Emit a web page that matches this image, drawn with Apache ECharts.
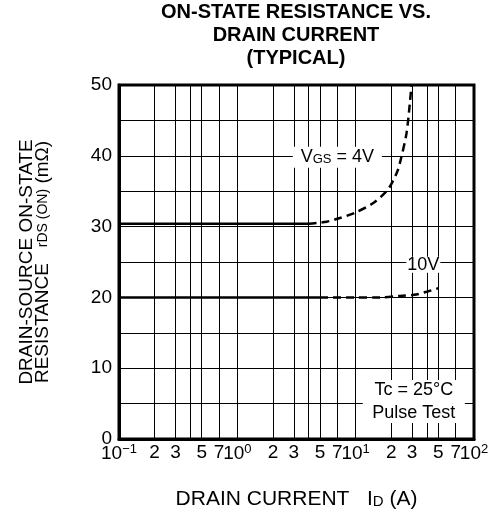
<!DOCTYPE html>
<html>
<head>
<meta charset="utf-8">
<script src="https://cdn.jsdelivr.net/npm/echarts@6/dist/echarts.min.js"></script>
<style>
  html, body { margin: 0; padding: 0; background: #fff; }
  #chart { width: 494px; height: 517px; }
</style>
</head>
<body>
<div id="chart"></div>
<script>
var FONT = 'Liberation Sans, Arial, Helvetica, sans-serif';

// x grid lines (A)
var xGridValues = [0.1, 0.2, 0.3, 0.4, 0.5, 0.7, 1, 2, 3, 4, 5, 7, 10, 20, 30, 40, 50, 70, 100];
// labelled ticks: digits inside each decade, and the powers of ten
var xDigitValues = [0.2, 0.3, 0.5, 0.7, 2, 3, 5, 7, 20, 30, 50, 70];
var xDigitTexts = ['2', '3', '5', '7', '2', '3', '5', '7', '2', '3', '5', '7'];
var xPowerValues = [0.1, 1, 10, 100];
var xPowerTexts = ['10{sup|−1}', '10{sup|0}', '10{sup|1}', '10{sup|2}'];

// VGS = 4V curve (ID in A, rDS(on) in mOhm)
var vgs4Solid = [[0.1, 30.4], [4, 30.4]];
var vgs4Dashed = [[4, 30.4], [5.7, 30.7], [7, 31.1], [10, 32.0], [14, 33.3], [18, 34.9], [20, 36.0], [22.5, 37.8], [24.4, 39.9], [26.9, 43.2], [28.7, 47.4], [29.6, 50]];

// VGS = 10V curve
var vgs10Solid = [[0.1, 20.0], [5, 20.0]];
var vgs10Dashed = [[5, 20.0], [10, 20.0], [16, 20.0], [23.6, 20.2], [32.6, 20.4], [39.8, 20.8], [50, 21.3]];

var chart = echarts.init(document.getElementById('chart'));

function pick(values, texts) {
  return function (v) {
    var best = 0, bestD = Infinity;
    for (var i = 0; i < values.length; i++) {
      var d = Math.abs(Math.log(v) - Math.log(values[i]));
      if (d < bestD) { bestD = d; best = i; }
    }
    return texts[best];
  };
}

var boxLabel = function (coord, size, text) {
  return {
    coord: coord,
    symbol: 'rect',
    symbolSize: size,
    itemStyle: { color: '#fff' },
    label: {
      show: true,
      position: 'inside',
      formatter: text,
      color: '#000',
      fontFamily: FONT,
      fontSize: 18,
      lineHeight: 23,
      rich: {
        sub: { fontSize: 13, fontFamily: FONT, color: '#000', padding: [4, 0, 0, 0] }
      }
    }
  };
};

var labelStyle = {
  margin: 4,
  color: '#000',
  fontFamily: FONT,
  fontSize: 19,
  hideOverlap: false,
  showMinLabel: true,
  showMaxLabel: true,
  rich: {
    sup: { fontSize: 13, fontFamily: FONT, color: '#000', padding: [0, 0, 9, 0] }
  }
};

var option = {
  animation: false,
  backgroundColor: '#fff',
  title: {
    text: 'ON-STATE RESISTANCE VS.\nDRAIN CURRENT\n(TYPICAL)',
    left: 296,
    top: 1,
    padding: 0,
    textAlign: 'center',
    textStyle: {
      fontFamily: FONT,
      fontWeight: 'bold',
      fontSize: 20,
      lineHeight: 23,
      color: '#000'
    }
  },
  grid: {
    left: 119,
    right: 20,
    top: 85,
    bottom: 78,
    show: true,
    borderColor: '#000',
    borderWidth: 3,
    backgroundColor: 'transparent'
  },
  xAxis: [
    {
      type: 'log',
      logBase: 10,
      min: 0.1,
      max: 100,
      name: 'DRAIN CURRENT   I{sub|D} (A)',
      nameLocation: 'middle',
      nameGap: 50,
      nameTextStyle: {
        fontFamily: FONT,
        fontSize: 21,
        color: '#000',
        rich: { sub: { fontSize: 15, fontFamily: FONT, color: '#000', padding: [5, 0, 0, 0] } }
      },
      axisLine: { show: true, lineStyle: { color: '#000', width: 3 } },
      axisTick: { show: false, customValues: xGridValues },
      minorTick: { show: false },
      minorSplitLine: { show: false },
      splitLine: { show: true, lineStyle: { color: '#000', width: 1 } },
      axisLabel: Object.assign({}, labelStyle, {
        customValues: xDigitValues,
        formatter: pick(xDigitValues, xDigitTexts)
      })
    },
    {
      // second bottom axis, only for the 10^n labels
      type: 'log',
      logBase: 10,
      min: 0.1,
      max: 100,
      position: 'bottom',
      axisLine: { show: false },
      axisTick: { show: false },
      minorTick: { show: false },
      splitLine: { show: false },
      axisLabel: Object.assign({}, labelStyle, {
        customValues: xPowerValues,
        formatter: pick(xPowerValues, xPowerTexts)
      })
    }
  ],
  yAxis: {
    type: 'value',
    min: 0,
    max: 50,
    interval: 5,
    name: 'DRAIN-SOURCE ON-STATE\nRESISTANCE   {s|rDS (ON)} (mΩ)',
    nameLocation: 'middle',
    nameRotate: 90,
    nameGap: 68,
    nameTextStyle: {
      fontFamily: FONT,
      fontSize: 19,
      lineHeight: 16,
      color: '#000',
      rich: { s: { fontSize: 14, lineHeight: 16, fontFamily: FONT, color: '#000' } }
    },
    axisLine: { show: true, lineStyle: { color: '#000', width: 3 } },
    axisTick: { show: false },
    splitLine: { show: true, lineStyle: { color: '#000', width: 1 } },
    axisLabel: {
      margin: 7,
      color: '#000',
      fontFamily: FONT,
      fontSize: 19,
      formatter: function (v) { return v % 10 === 0 ? String(v) : ''; }
    }
  },
  series: [
    {
      type: 'line',
      data: vgs4Solid,
      symbol: 'none',
      lineStyle: { color: '#000', width: 2.5 },
      z: 5
    },
    {
      type: 'line',
      data: vgs4Dashed,
      symbol: 'none',
      smooth: 0.3,
      lineStyle: { color: '#000', width: 2.5, type: [8, 5] },
      z: 5,
      markPoint: {
        silent: true,
        data: [
          boxLabel([7, 39.8], [89, 21], 'V{sub|GS} = 4V'),
          boxLabel([37.3, 24.6], [34, 16], '10V'),
          boxLabel([31, 5.3], [102, 43], 'Tc = 25°C\nPulse Test')
        ]
      }
    },
    {
      type: 'line',
      data: vgs10Solid,
      symbol: 'none',
      lineStyle: { color: '#000', width: 2.5 },
      z: 5
    },
    {
      type: 'line',
      data: vgs10Dashed,
      symbol: 'none',
      smooth: 0.3,
      lineStyle: { color: '#000', width: 2.5, type: [8, 5] },
      z: 5
    }
  ]
};

chart.setOption(option);
</script>
</body>
</html>
